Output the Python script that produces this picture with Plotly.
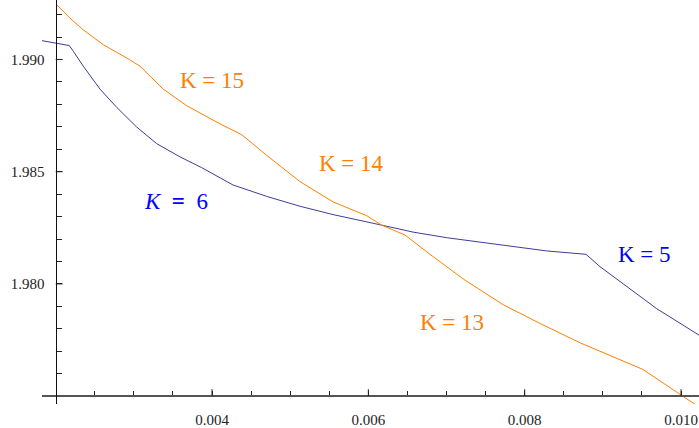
import plotly.graph_objects as go

# Blue curve (K = 6 then K = 5)
blue_x = [0.001821, 0.002174, 0.002225, 0.002353, 0.002567, 0.00278, 0.003036, 0.003292,
          0.00359, 0.003868, 0.004268, 0.004699, 0.005125, 0.005547, 0.00617, 0.006571,
          0.007002, 0.007428, 0.007854, 0.008281, 0.008784, 0.008963, 0.009219, 0.009688, 0.01023]
blue_y = [1.99084, 1.99062, 1.99037, 1.98970, 1.98868, 1.98787, 1.98699, 1.98625,
          1.98566, 1.98518, 1.98441, 1.98390, 1.98346, 1.98309, 1.98262, 1.98231,
          1.98206, 1.98187, 1.98166, 1.98147, 1.98132, 1.98077, 1.98011, 1.97890, 1.97772]

# Orange curve (K = 15, 14, 13, ...)
orange_x = [0.002004, 0.002183, 0.002353, 0.002609, 0.002942, 0.003078, 0.003376, 0.003676,
            0.004102, 0.004379, 0.004699, 0.005125, 0.005551, 0.005979, 0.00617, 0.006469,
            0.006788, 0.007214, 0.007726, 0.008195, 0.008707, 0.009513, 0.010, 0.01023]
orange_y = [1.99247, 1.99184, 1.99132, 1.99066, 1.99000, 1.98970, 1.98868, 1.98794,
            1.98713, 1.98665, 1.98573, 1.98456, 1.98365, 1.98304, 1.98262, 1.98218,
            1.98132, 1.98022, 1.97907, 1.97824, 1.97738, 1.97619, 1.97505, 1.97452]

x_ticks = [0.004, 0.006, 0.008, 0.010]
x_tick_labels = ["0.004", "0.006", "0.008", "0.010"]
y_ticks = [1.980, 1.985, 1.990]
y_tick_labels = ["1.980", "1.985", "1.990"]
x_minor = [0.0025 + 0.0005 * i for i in range(16)]
y_minor = [1.976 + 0.001 * i for i in range(17)]

labels = [
    ("K = 15", 0.00400, 1.98907, "#FF8000"),
    ("K = 14", 0.00579, 1.98537, "#FF8000"),
    ("K = 13", 0.00707, 1.97826, "#FF8000"),
    ("K = 5", 0.009539, 1.98131, "#0000FF"),
    ("<i>K</i>&nbsp;&nbsp;<b>=</b>&nbsp;&nbsp;6", 0.003539, 1.98369, "#0000FF"),
]

BLUE_LINE = "#3D3D99"
ORANGE_LINE = "#FF8000"
SERIF = "Liberation Serif"

xr = [0.001825, 0.01023]
yr = [1.97465, 1.99265]
X_CROSS = 0.002      # where the y axis sits
Y_CROSS = 1.975      # where the x axis sits
# data units per pixel (for tick-mark lengths)
px_x = (xr[1] - xr[0]) / 657.0
px_y = (yr[1] - yr[0]) / 408.0

fig = go.Figure()
fig.add_trace(go.Scatter(x=blue_x, y=blue_y, mode="lines",
                         line=dict(color=BLUE_LINE, width=1), showlegend=False))
fig.add_trace(go.Scatter(x=orange_x, y=orange_y, mode="lines",
                         line=dict(color=ORANGE_LINE, width=1), showlegend=False))

for txt, x, y, c in labels:
    fig.add_annotation(x=x, y=y, text=txt, showarrow=False, xanchor="center", yanchor="middle",
                       font=dict(family=SERIF, size=23, color=c))

# major tick marks pointing into the plot
for v in x_ticks:
    fig.add_shape(type="line", xref="x", yref="y", x0=v, x1=v, y0=Y_CROSS, y1=Y_CROSS + 7 * px_y,
                  line=dict(color="#222", width=1))
for v in y_ticks:
    fig.add_shape(type="line", xref="x", yref="y", x0=X_CROSS, x1=X_CROSS + 7 * px_x, y0=v, y1=v,
                  line=dict(color="#222", width=1))

tickfont = dict(family=SERIF, size=15, color="#222")
fig.update_layout(
    width=699, height=428,
    font=dict(family=SERIF),
    margin=dict(l=42, r=0, t=0, b=20),
    paper_bgcolor="white", plot_bgcolor="white",
    xaxis=dict(range=xr, showgrid=False, zeroline=False, showline=True, linecolor="#555",
               linewidth=1.5, anchor="free",
               position=(Y_CROSS - yr[0]) / (yr[1] - yr[0]),
               tickmode="array", tickvals=x_ticks, ticktext=x_tick_labels,
               ticks="outside", ticklen=5, tickwidth=1, tickcolor="rgba(0,0,0,0)",
               ticklabelposition="outside", ticklabelstandoff=5,
               tickfont=tickfont,
               minor=dict(tickmode="array", tickvals=x_minor, ticks="inside", ticklen=4,
                          tickwidth=1, tickcolor="#222", showgrid=False)),
    yaxis=dict(range=yr, showgrid=False, zeroline=False, showline=True, linecolor="#111",
               linewidth=1.2, anchor="free",
               position=(X_CROSS - xr[0]) / (xr[1] - xr[0]),
               tickmode="array", tickvals=y_ticks, ticktext=y_tick_labels,
               ticks="outside", ticklen=4, tickwidth=1, tickcolor="rgba(0,0,0,0)",
               ticklabelposition="outside", ticklabelstandoff=4,
               tickfont=tickfont,
               minor=dict(tickmode="array", tickvals=y_minor, ticks="inside", ticklen=5,
                          tickwidth=1, tickcolor="#222", showgrid=False)),
)

fig.write_html("out.html", config={"displayModeBar": False},
               post_script="document.body.style.margin='0';")
